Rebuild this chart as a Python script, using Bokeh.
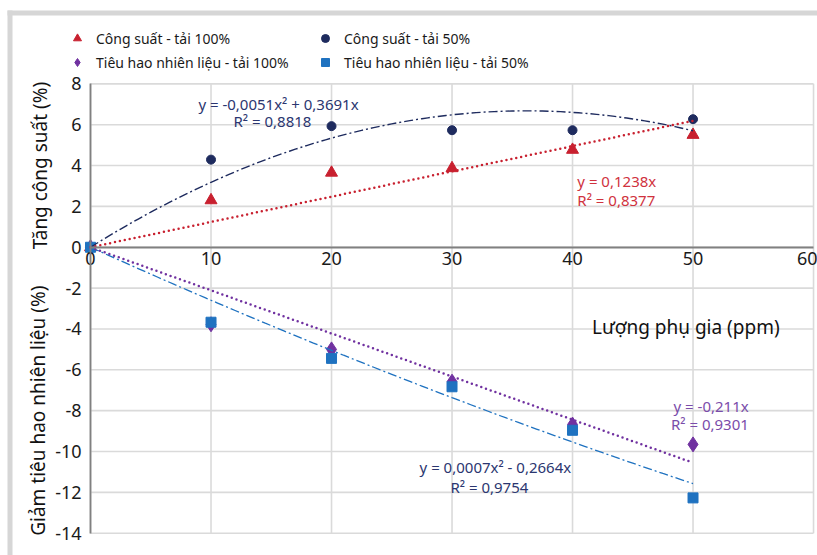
import numpy as np
from bokeh.plotting import figure
from bokeh.models import (Range1d, FixedTicker, Legend, LegendItem, Label,
                          BoxAnnotation, LinearAxis, PrintfTickFormatter)
from bokeh.embed import file_html
from bokeh.resources import INLINE

# ---- data ----
additive_ppm = [0, 10, 20, 30, 40, 50]
power_full = [0, 2.3, 3.65, 3.87, 4.77, 5.5]          # Công suất - tải 100%
power_half = [0, 4.29, 5.93, 5.73, 5.73, 6.27]        # Công suất - tải 50%
fuel_full = [0, -3.77, -5.0, -6.58, -8.68, -9.65]     # Tiêu hao nhiên liệu - tải 100%
fuel_half = [0, -3.67, -5.44, -6.83, -8.96, -12.27]   # Tiêu hao nhiên liệu - tải 50%

# trendline coefficients (a*x^2 + b*x) as printed on the chart
trend_power_full = (0.0, 0.1238)
trend_power_half = (-0.0051, 0.3691)
trend_fuel_full = (0.0, -0.211)
trend_fuel_half = (0.0007, -0.2664)

x_ticks = [0, 10, 20, 30, 40, 50, 60]
y_ticks = [-14, -12, -10, -8, -6, -4, -2, 0, 2, 4, 6, 8]
X_MIN, X_MAX = 0, 60
Y_MIN, Y_MAX = -14, 8

FONT = "Noto Sans"
RED = "#C8202F"
NAVY = "#1E2B5E"
PURPLE = "#7031A0"
BLUE = "#1F72C0"

# the frame fills the whole canvas; the chart area (0..60, -14..8) sits inside it
p = figure(width=817, height=555, output_backend="svg", toolbar_location=None,
           x_range=Range1d(-7.47, 60.33), y_range=Range1d(-15.09, 12.08),
           x_axis_location=None, y_axis_location=None,
           min_border=0, background_fill_color="white",
           border_fill_color="white", outline_line_color=None)
p.xgrid.visible = False
p.ygrid.visible = False

# grid lines limited to the chart area
p.segment(x0=x_ticks, y0=[Y_MIN] * len(x_ticks), x1=x_ticks, y1=[Y_MAX] * len(x_ticks),
          line_color="#dadada", line_width=1.6)
p.segment(x0=[X_MIN] * len(y_ticks), y0=y_ticks, x1=[X_MAX] * len(y_ticks), y1=y_ticks,
          line_color="#dadada", line_width=1.6)

# axes crossing at the origin
xax = LinearAxis(fixed_location=0, bounds=(X_MIN, X_MAX),
                 ticker=FixedTicker(ticks=x_ticks))
yax = LinearAxis(fixed_location=0, bounds=(Y_MIN, Y_MAX),
                 ticker=FixedTicker(ticks=y_ticks),
                 formatter=PrintfTickFormatter(format="%d"))
for ax in (xax, yax):
    ax.axis_line_color = "#808080"
    ax.axis_line_width = 1.8
    ax.major_tick_line_color = None
    ax.minor_tick_line_color = None
    ax.major_tick_out = 0
    ax.major_tick_in = 0
    ax.major_label_text_font = FONT
    ax.major_label_text_font_size = "18px"
    ax.major_label_text_color = "#1a1a1a"
xax.major_label_standoff = 5
yax.major_label_standoff = 9
p.add_layout(xax, "below")
p.add_layout(yax, "left")

# trendlines
xt = np.linspace(0, 50, 101)
def trend(c):
    return c[0] * xt ** 2 + c[1] * xt

# markers
r_pf = p.scatter(additive_ppm, power_full, marker="triangle", size=12, color=RED)
r_ph = p.scatter(additive_ppm, power_half, marker="circle", size=9, color=NAVY)
r_ff = p.scatter(additive_ppm, fuel_full, marker="diamond", size=15, color=PURPLE)
r_fh = p.scatter(additive_ppm, fuel_half, marker="square", size=10, color=BLUE)

p.line(xt, trend(trend_power_half), line_color=NAVY, line_width=1.4, line_dash="9 3 2 3")
p.line(xt, trend(trend_fuel_half), line_color=BLUE, line_width=1.3, line_dash="9 3 2 3")
p.line(xt, trend(trend_power_full), line_color=RED, line_width=2.5, line_dash="0 5",
       line_cap="round")
p.line(xt, trend(trend_fuel_full), line_color=PURPLE, line_width=2.5, line_dash="0 5",
       line_cap="round")

# legends (two columns) -- location is the legend's bottom-left corner
def make_legend(items, loc):
    lg = Legend(items=items, location=loc, orientation="vertical",
                glyph_width=20, glyph_height=20, label_height=20, spacing=4,
                padding=0, margin=0, label_standoff=9,
                border_line_color=None, background_fill_alpha=0,
                label_text_font=FONT, label_text_font_size="14px",
                label_text_color="#1a1a1a")
    p.add_layout(lg)

make_legend([LegendItem(label="Công suất - tải 100%", renderers=[r_pf]),
             LegendItem(label="Tiêu hao nhiên liệu - tải 100%", renderers=[r_ff])],
            (67, 483))
make_legend([LegendItem(label="Công suất - tải 50%", renderers=[r_ph]),
             LegendItem(label="Tiêu hao nhiên liệu - tải 50%", renderers=[r_fh])],
            (315, 483))

# equation labels
def lab(x, y, text, color, align="center", size="15px"):
    p.add_layout(Label(x=x, y=y, text=text, text_color=color, text_align=align,
                       text_baseline="middle", text_font=FONT, text_font_size=size))

lab(15.6, 7.02, "y = -0,0051x² + 0,3691x", "#2B3670")
lab(15.1, 6.16, "R² = 0,8818", "#2B3670")
lab(40.4, 3.24, "y = 0,1238x", "#D0323E", align="left")
lab(40.4, 2.29, "R² = 0,8377", "#D0323E", align="left")
lab(51.5, -7.78, "y = -0,211x", "#7A4CAA")
lab(51.4, -8.66, "R² = 0,9301", "#7A4CAA")
lab(33.6, -10.76, "y = 0,0007x² - 0,2664x", "#2B3670")
lab(33.1, -11.74, "R² = 0,9754", "#2B3670")
lab(49.4, -3.88, "Lượng phụ gia (ppm)", "#111111", size="19px")

# axis titles (rotated)
p.add_layout(Label(x=-4.2, y=4.0, text="Tăng công suất (%)", angle=np.pi / 2,
                   text_align="center", text_baseline="middle", text_font=FONT,
                   text_font_size="19px", text_color="#111111"))
p.add_layout(Label(x=-4.35, y=-8.0, text="Giảm tiêu hao nhiên liệu (%)", angle=np.pi / 2,
                   text_align="center", text_baseline="middle", text_font=FONT,
                   text_font_size="19px", text_color="#111111"))

# outer gray frame (partially visible)
p.add_layout(BoxAnnotation(left=7, right=817, top=10, bottom=15,
                           left_units="canvas", right_units="canvas",
                           top_units="canvas", bottom_units="canvas",
                           fill_color="#d6d6d6", fill_alpha=1, line_color=None))
p.add_layout(BoxAnnotation(left=7, right=12, top=10, bottom=555,
                           left_units="canvas", right_units="canvas",
                           top_units="canvas", bottom_units="canvas",
                           fill_color="#d6d6d6", fill_alpha=1, line_color=None))

open("out.html", "w").write(file_html(p, INLINE))
